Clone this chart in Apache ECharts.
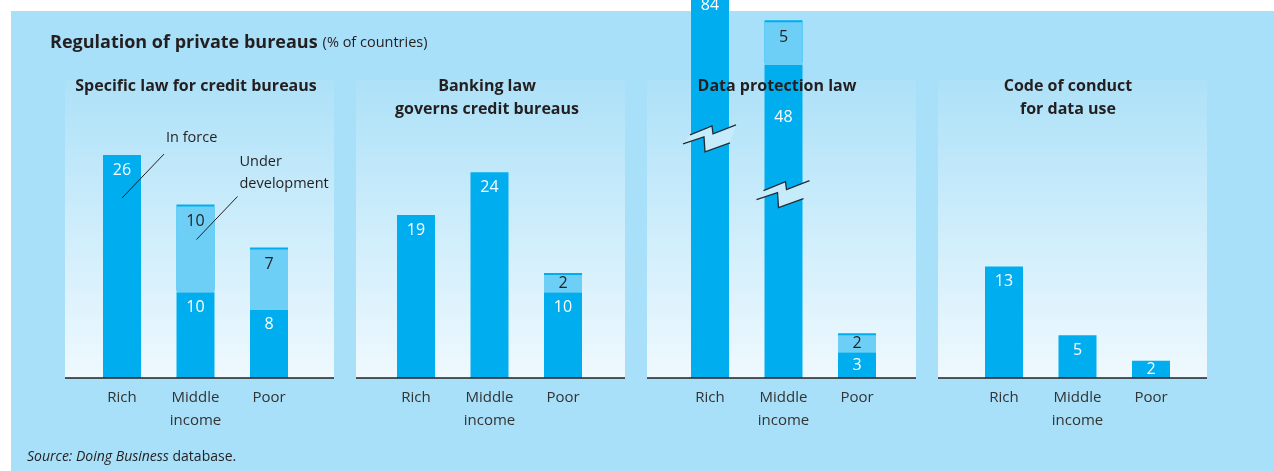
<!DOCTYPE html>
<html>
<head>
<meta charset="utf-8">
<script src="https://cdn.jsdelivr.net/npm/echarts@6/dist/echarts.min.js"></script>
<style>
html,body{margin:0;padding:0;background:#fff}
#main{width:1274px;height:471px}
</style>
</head>
<body>
<div id="main"></div>
<script>
const categories=['Rich','Middle\nincome','Poor']
const panelTitles=['Specific law for credit bureaus','Banking law\ngoverns credit bureaus','Data protection law','Code of conduct\nfor data use']
const specificInForce=[26,10,8]
const specificUnder=[0,10,7]
const bankingInForce=[19,24,10]
const bankingUnder=[0,0,2]
const dataProtInForce=[84,48,3]
const dataProtUnder=[0,5,2]
// bar heights as drawn on the broken scale
const dataProtShown=[45.2,36.5,3]
const codeInForce=[13,5,2]
const codeUnder=[0,0,0]

const panels=[
    {inForce:specificInForce,under:specificUnder},
    {inForce:bankingInForce,under:bankingUnder},
    {inForce:dataProtInForce,under:dataProtUnder,shown:dataProtShown,gap:[7,44,7]},
    {inForce:codeInForce,under:codeUnder}
]

const DARK='#00aeef'
const LIGHT='#6dcff6'
const INK='#231f20'
const FONT='"Open Sans", "Noto Sans", sans-serif'

const panelLeft=[65,356,647,938]
const panelW=269
const gridLeft=[85.25,379.25,673.25,967.25]
const titleX=[196,487,777,1068]

const chartDom=document.getElementById('main')
let myChart=echarts.init(chartDom)

let grids=[],xAxes=[],yAxes=[],series=[]
panels.forEach((p,i)=>{
    grids.push({left:gridLeft[i],width:220.5,top:35,bottom:93})
    xAxes.push({
        type:'category',gridIndex:i,data:categories,
        axisLine:{show:false},axisTick:{show:false},
        axisLabel:{color:'#333',fontSize:15,fontFamily:FONT,lineHeight:23,margin:8}
    })
    yAxes.push({type:'value',gridIndex:i,min:0,max:40,show:false,splitLine:{show:false}})
    const drawn=p.shown||p.inForce
    series.push({
        type:'bar',xAxisIndex:i,yAxisIndex:i,stack:'s'+i,barWidth:38,clip:false,
        itemStyle:{color:DARK},
        data:drawn.map((v,k)=>({
            value:v,
            label:{position:p.inForce[k]<=3?'inside':'insideTop',distance:p.gap?p.gap[k]:7}
        })),
        label:{
            show:true,color:'#fff',fontSize:16,fontFamily:FONT,
            formatter:(d)=>String(p.inForce[d.dataIndex])
        },
        z:3
    })
    series.push({
        type:'bar',xAxisIndex:i,yAxisIndex:i,stack:'s'+i,barWidth:38,clip:false,
        itemStyle:{color:LIGHT,shadowColor:DARK,shadowBlur:0,shadowOffsetY:-2},
        data:p.under.map(v=>v?{value:v,label:{position:v<=3?'inside':'insideTop'}}:null),
        label:{show:true,color:INK,fontSize:16,fontFamily:FONT,distance:7},
        z:3
    })
})

let option={
    animation:false,
    backgroundColor:'transparent',
    title:{
        text:'{b|Regulation of private bureaus} {n|(% of countries)}',
        left:45,top:29,
        textStyle:{rich:{
            b:{fontSize:18,fontWeight:'bold',color:INK,fontFamily:FONT},
            n:{fontSize:14.5,fontWeight:'normal',color:INK,fontFamily:FONT}
        }}
    },
    grid:grids,xAxis:xAxes,yAxis:yAxes,series:series
}
option && myChart.setOption(option)

// background, panels, axis lines, titles, break marks, annotations
let g=[]
g.push({type:'rect',z:-20,shape:{x:11,y:11,width:1263,height:460},style:{fill:'#a8dff9'},silent:true})
panelLeft.forEach((x,i)=>{
    g.push({type:'rect',z:-10,shape:{x:x,y:80,width:panelW,height:298},silent:true,
        style:{fill:{type:'linear',x:0,y:0,x2:0,y2:1,colorStops:[{offset:0,color:'#ade1f8'},{offset:1,color:'#eff9fe'}]}}})
    g.push({type:'line',z:5,shape:{x1:x,y1:378,x2:x+panelW,y2:378},style:{stroke:INK,lineWidth:1.5},silent:true})
    g.push({type:'text',z:5,x:titleX[i],y:75,silent:true,
        style:{text:panelTitles[i],textAlign:'center',textVerticalAlign:'top',fontSize:16,fontWeight:'bold',
            fontFamily:FONT,fill:INK,lineHeight:23}})
})

function breakMark(c){
    const up=[[-20,-3],[2,-12],[3,-4],[26,-13]]
    const lo=[[-27,6],[-6,-1],[-5,14],[20,5]]
    const mv=pts=>pts.map(q=>[c[0]+q[0],c[1]+q[1]])
    g.push({type:'polygon',z:10,silent:true,shape:{points:mv(up.concat(lo.slice().reverse()))},style:{fill:'#c6ebfa'}})
    g.push({type:'polyline',z:11,silent:true,shape:{points:mv(up)},style:{stroke:'#1f2d36',lineWidth:1.3,fill:null}})
    g.push({type:'polyline',z:11,silent:true,shape:{points:mv(lo)},style:{stroke:'#1f2d36',lineWidth:1.3,fill:null}})
}
breakMark(myChart.convertToPixel({gridIndex:2},[0,28]))
breakMark(myChart.convertToPixel({gridIndex:2},[1,21.5]))

// "In force" / "Under development" callouts on the first panel
const richTop=myChart.convertToPixel({gridIndex:0},[0,specificInForce[0]])
const midTop=myChart.convertToPixel({gridIndex:0},[1,specificInForce[1]+specificUnder[1]])
g.push({type:'line',z:11,silent:true,shape:{x1:richTop[0],y1:richTop[1]+43,x2:richTop[0]+42,y2:richTop[1]-1},style:{stroke:INK,lineWidth:1}})
g.push({type:'text',z:11,silent:true,x:richTop[0]+44,y:richTop[1]-17,
    style:{text:'In force',fontSize:14.5,fontFamily:FONT,fill:INK,textVerticalAlign:'middle'}})
g.push({type:'line',z:11,silent:true,shape:{x1:midTop[0]+1,y1:midTop[1]+33,x2:midTop[0]+42,y2:midTop[1]-10},style:{stroke:INK,lineWidth:1}})
g.push({type:'text',z:11,silent:true,x:midTop[0]+44,y:midTop[1]-56,
    style:{text:'Under\ndevelopment',fontSize:14.5,fontFamily:FONT,fill:INK,lineHeight:22,textVerticalAlign:'top'}})

g.push({type:'text',z:11,silent:true,x:27,y:457,
    style:{text:'{i|Source: Doing Business} database.',textVerticalAlign:'middle',fontSize:14,fontFamily:FONT,fill:INK,
        rich:{i:{fontStyle:'italic',fontSize:14,fontFamily:FONT,fill:INK}}}})

myChart.setOption({graphic:g})
</script>
</body>
</html>
